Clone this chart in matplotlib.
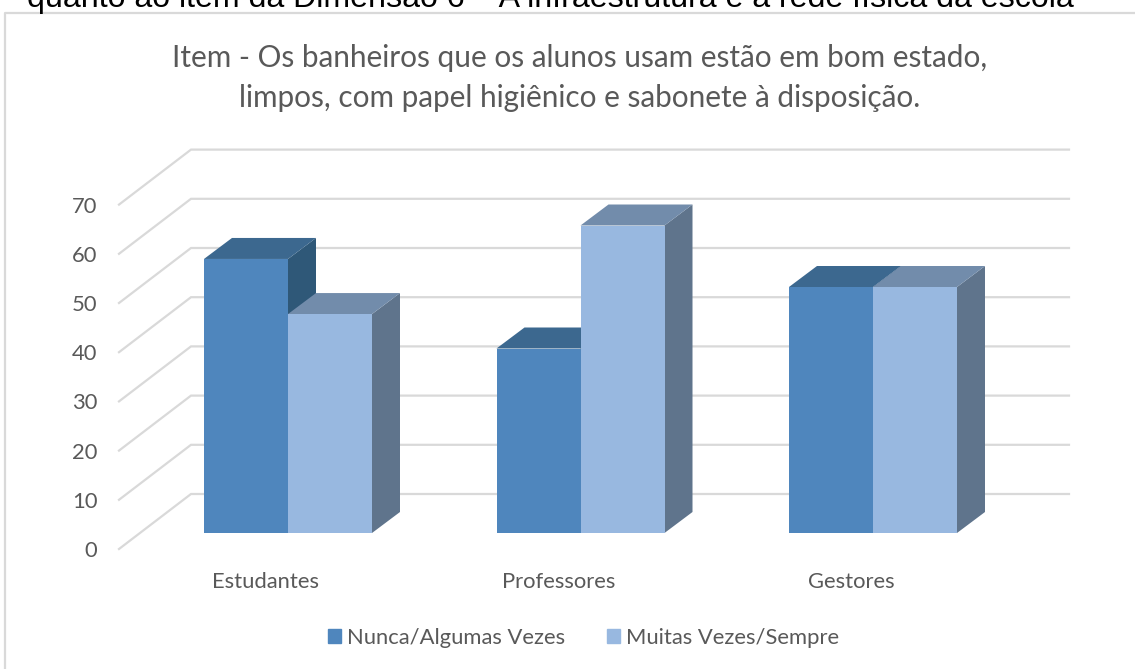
import matplotlib
matplotlib.use("Agg")
import matplotlib.pyplot as plt
from matplotlib.patches import Patch

W, H = 1135, 669

# valores
categorias = ["Estudantes", "Professores", "Gestores"]
nunca = [55.7, 37.5, 50]
muitas = [44.5, 62.5, 50]
series_nomes = ["Nunca/Algumas Vezes", "Muitas Vezes/Sempre"]
eixo_y = [0, 10, 20, 30, 40, 50, 60, 70]

# cores: frente, topo, lado
cor1 = ("#4F86BD", "#3C688F", "#2F5878")
cor2 = ("#98B8E0", "#728CAB", "#5F748C")
cinza = "#595959"
grade = "#D9D9D9"

plt.rcParams["font.family"] = ["Lato", "DejaVu Sans"]

fig = plt.figure(figsize=(W / 100, H / 100), dpi=100)
fig.patch.set_facecolor("white")

# texto cortado acima do grafico
fig.text(550.5 / W, 1 - 7 / H, "quanto ao item da Dimensão 6 – A infraestrutura e a rede física da escola",
         family="Liberation Sans", fontsize=23.1, color="black", ha="center", va="baseline")

# moldura
fig.add_artist(plt.Line2D([5 / W, 5 / W, 1], [0, 1 - 12.5 / H, 1 - 12.5 / H],
                          color=grade, lw=1.6, transform=fig.transFigure))

fig.text(579.5 / W, 1 - 58 / H, "Item - Os banheiros que os alunos usam estão em bom estado,",
         fontsize=21.4, color=cinza, ha="center", va="center")
fig.text(579.5 / W, 1 - 98 / H, "limpos, com papel higiênico e sabonete à disposição.",
         fontsize=21.4, color=cinza, ha="center", va="center")

# eixo em px: area do plot de x=119..1069 e y=150..549
px_x = 292.5      # px por categoria
px_y = 4.92       # px por unidade
x0_px, y0_px = 288, 533   # centro do primeiro grupo, base da frente das barras
left, right, top, bottom = 119, 1069, 150, 549
ax = fig.add_axes([left / W, 1 - bottom / H, (right - left) / W, (bottom - top) / H])
ax.set_xlim((left - x0_px) / px_x, (right - x0_px) / px_x)
ax.set_ylim((y0_px - bottom) / px_y, (y0_px - top) / px_y)
for s in ax.spines.values():
    s.set_visible(False)
ax.patch.set_visible(False)

larg = 84 / px_x
dx = 28 / px_x
dy = 21 / px_y
# paredes: frente e fundo da grade em relacao ao plano das barras
gx_frente, gx_fundo, gx_fim = (119 - x0_px) / px_x, (191 - x0_px) / px_x, (1069 - x0_px) / px_x
gy_frente, gy_fundo = (533 - 549) / px_y, (533 - 494) / px_y

for v in eixo_y:
    ax.plot([gx_frente, gx_fundo, gx_fim], [v + gy_frente, v + gy_fundo, v + gy_fundo],
            color=grade, lw=1.6, zorder=1, solid_joinstyle="miter", clip_on=False)


def barra3d(x_esq, valor, cores, z):
    ax.bar(x_esq, valor, larg, align="edge", color=cores[0], zorder=z + 2)
    ax.fill([x_esq, x_esq + dx, x_esq + larg + dx, x_esq + larg],
            [valor, valor + dy, valor + dy, valor], color=cores[1], lw=0, zorder=z + 1)
    ax.fill([x_esq + larg, x_esq + larg + dx, x_esq + larg + dx, x_esq + larg],
            [0, dy, valor + dy, valor], color=cores[2], lw=0, zorder=z)


for i in range(len(categorias)):
    barra3d(i - larg, nunca[i], cor1, 10 + i * 10)
    barra3d(i, muitas[i], cor2, 15 + i * 10)

# rotulos
ax.set_yticks([v + gy_frente for v in eixo_y], [str(v) for v in eixo_y])
ax.set_xticks([i - 22 / px_x for i in range(len(categorias))], categorias)
ax.tick_params(axis="y", length=0, pad=15.5, labelsize=15.8, labelcolor=cinza)
ax.tick_params(axis="x", length=0, pad=16.5, labelsize=15.8, labelcolor=cinza)

handles = [Patch(color=cor1[0], label=series_nomes[0]), Patch(color=cor2[0], label=series_nomes[1])]
fig.legend(handles=handles, loc="center", bbox_to_anchor=(583.5 / W, 1 - 637.5 / H), ncol=2, frameon=False,
           fontsize=15.8, labelcolor=cinza, handlelength=0.6, handleheight=0.6,
           handletextpad=0.28, columnspacing=1.87)

fig.savefig("out.png", dpi=100)
